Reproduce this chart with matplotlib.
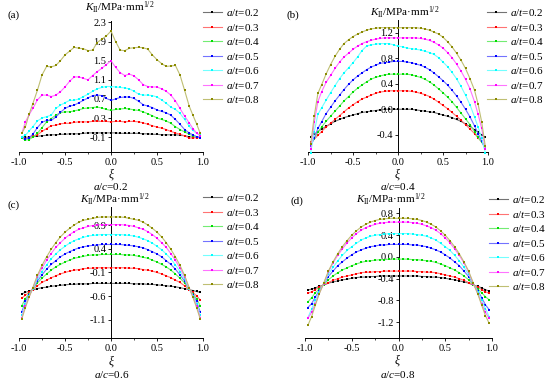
import numpy as np
import matplotlib
matplotlib.use("Agg")
import matplotlib.pyplot as plt
from matplotlib.colors import to_rgb

plt.rcParams['font.family'] = ['Liberation Serif', 'DejaVu Serif']
plt.rcParams['mathtext.fontset'] = 'custom'
plt.rcParams['mathtext.rm'] = 'Liberation Serif'
plt.rcParams['mathtext.it'] = 'Liberation Serif:italic'

# ---------------- data ----------------
xi = [-0.97, -0.93, -0.89, -0.85, -0.80, -0.75, -0.70, -0.65, -0.60, -0.55, -0.50,
      -0.45, -0.40, -0.35, -0.30, -0.25, -0.20, -0.15, -0.10, -0.05, 0.0,
      0.05, 0.10, 0.15, 0.20, 0.25, 0.30, 0.35, 0.40, 0.45, 0.50,
      0.55, 0.60, 0.65, 0.70, 0.75, 0.80, 0.85, 0.89, 0.93, 0.97]

series_labels = ['0.2', '0.3', '0.4', '0.5', '0.6', '0.7', '0.8']

# panel (a) a/c = 0.2
a_02 = [-0.10,-0.10,-0.10,-0.09,-0.08,-0.07,-0.06,-0.05,-0.05,-0.04,-0.04,-0.03,-0.03,-0.03,-0.02,-0.01,-0.01,-0.01,-0.01,-0.01,
        -0.01,
        -0.01,-0.02,-0.02,-0.02,-0.02,-0.02,-0.03,-0.03,-0.04,-0.04,-0.05,-0.05,-0.05,-0.05,-0.06,-0.07,-0.09,-0.10,-0.10,-0.11]
a_03 = [-0.09,-0.13,-0.11,-0.08,-0.05,0.02,0.08,0.14,0.15,0.18,0.19,0.19,0.21,0.22,0.22,0.22,0.23,0.23,0.23,0.23,
        0.22,
        0.23,0.23,0.22,0.23,0.23,0.22,0.20,0.17,0.14,0.11,0.09,0.06,0.02,-0.01,-0.04,-0.07,-0.12,-0.12,-0.11,-0.11]
a_04 = [-0.12,-0.16,-0.15,-0.10,-0.02,0.10,0.22,0.29,0.36,0.41,0.43,0.43,0.45,0.47,0.50,0.51,0.52,0.53,0.51,0.48,
        0.46,
        0.48,0.49,0.50,0.49,0.47,0.46,0.43,0.39,0.35,0.30,0.27,0.24,0.19,0.12,0.06,0.01,-0.04,-0.07,-0.09,-0.09]
a_05 = [-0.09,-0.14,-0.11,-0.04,0.10,0.21,0.25,0.25,0.32,0.42,0.50,0.55,0.57,0.62,0.67,0.72,0.77,0.78,0.77,0.71,
        0.67,
        0.70,0.73,0.74,0.74,0.71,0.65,0.58,0.55,0.52,0.47,0.44,0.41,0.36,0.27,0.17,0.06,-0.01,-0.05,-0.09,-0.11]
a_06 = [-0.09,-0.06,0.03,0.12,0.24,0.30,0.33,0.36,0.50,0.57,0.62,0.67,0.67,0.70,0.75,0.80,0.86,0.91,0.94,0.96,
        0.96,
        0.95,0.94,0.93,0.91,0.86,0.80,0.78,0.78,0.77,0.74,0.68,0.61,0.53,0.48,0.40,0.27,0.13,0.04,-0.02,-0.06]
a_07 = [-0.02,0.22,0.37,0.50,0.68,0.78,0.78,0.75,0.78,0.85,0.95,1.07,1.16,1.16,1.13,1.10,1.19,1.27,1.34,1.42,
        1.50,
        1.36,1.25,1.19,1.22,1.18,1.10,1.00,0.96,0.95,0.95,0.91,0.86,0.78,0.66,0.50,0.34,0.20,0.08,-0.01,-0.07]
a_08 = [-0.02,0.12,0.38,0.60,0.88,1.20,1.38,1.37,1.40,1.50,1.62,1.70,1.78,1.76,1.75,1.71,1.72,1.88,1.95,2.02,
        2.12,
        1.90,1.72,1.71,1.76,1.77,1.78,1.77,1.74,1.62,1.52,1.44,1.38,1.39,1.40,1.20,0.88,0.55,0.36,0.18,-0.02]

# panel (b) a/c = 0.4
b_02 = [-0.43,-0.39,-0.35,-0.31,-0.27,-0.23,-0.19,-0.16,-0.13,-0.11,-0.09,-0.07,-0.05,-0.04,-0.03,-0.02,-0.01,0.0,0.0,0.0,
        0.0,
        0.0,0.0,0.0,-0.01,-0.02,-0.03,-0.04,-0.05,-0.07,-0.09,-0.11,-0.13,-0.16,-0.19,-0.23,-0.27,-0.32,-0.36,-0.40,-0.44]
b_03 = [-0.52,-0.47,-0.41,-0.35,-0.28,-0.22,-0.16,-0.10,-0.04,0.02,0.07,0.12,0.16,0.19,0.22,0.25,0.27,0.28,0.29,0.29,
        0.29,
        0.29,0.29,0.28,0.27,0.25,0.23,0.20,0.16,0.11,0.06,0.01,-0.05,-0.11,-0.17,-0.24,-0.31,-0.38,-0.45,-0.51,-0.58]
b_04 = [-0.55,-0.46,-0.36,-0.28,-0.19,-0.11,-0.03,0.05,0.13,0.20,0.27,0.33,0.38,0.43,0.47,0.50,0.52,0.54,0.55,0.55,
        0.55,
        0.55,0.55,0.54,0.52,0.50,0.47,0.43,0.38,0.32,0.26,0.19,0.12,0.03,-0.06,-0.15,-0.24,-0.35,-0.44,-0.52,-0.60]
b_05 = [-0.58,-0.45,-0.30,-0.20,-0.07,0.03,0.13,0.22,0.31,0.39,0.46,0.52,0.57,0.62,0.66,0.69,0.72,0.73,0.74,0.75,
        0.75,
        0.75,0.74,0.73,0.71,0.69,0.66,0.62,0.57,0.51,0.45,0.38,0.30,0.21,0.11,0.0,-0.12,-0.26,-0.38,-0.50,-0.63]
b_06 = [-0.68,-0.35,-0.08,0.02,0.14,0.26,0.37,0.48,0.57,0.65,0.73,0.82,0.92,0.99,1.01,1.02,1.03,1.03,1.03,1.01,
        0.99,
        0.98,0.96,0.95,0.94,0.93,0.91,0.89,0.86,0.81,0.74,0.67,0.58,0.48,0.36,0.22,0.07,-0.12,-0.28,-0.45,-0.68]
b_07 = [-0.63,-0.20,0.12,0.27,0.42,0.53,0.64,0.74,0.82,0.88,0.94,0.99,1.03,1.06,1.08,1.10,1.11,1.12,1.12,1.12,
        1.12,
        1.12,1.12,1.12,1.12,1.11,1.10,1.08,1.05,1.01,0.96,0.89,0.81,0.71,0.60,0.47,0.32,0.12,-0.08,-0.30,-0.62]
b_08 = [-0.55,-0.10,0.25,0.38,0.55,0.70,0.83,0.94,1.03,1.09,1.14,1.18,1.21,1.24,1.26,1.27,1.28,1.28,1.28,1.28,
        1.28,
        1.28,1.28,1.28,1.28,1.27,1.26,1.24,1.21,1.18,1.13,1.06,0.98,0.88,0.77,0.64,0.48,0.30,0.08,-0.20,-0.58]

# panel (c) a/c = 0.6
c_02 = [-0.55,-0.52,-0.49,-0.47,-0.44,-0.42,-0.41,-0.39,-0.38,-0.37,-0.36,-0.35,-0.35,-0.34,-0.34,-0.34,-0.33,-0.33,-0.33,-0.33,
        -0.33,
        -0.33,-0.33,-0.33,-0.33,-0.34,-0.34,-0.34,-0.35,-0.35,-0.36,-0.37,-0.38,-0.39,-0.40,-0.42,-0.44,-0.46,-0.48,-0.50,-0.52]
c_03 = [-0.64,-0.58,-0.52,-0.46,-0.38,-0.31,-0.26,-0.21,-0.17,-0.13,-0.10,-0.07,-0.05,-0.04,-0.02,-0.01,-0.01,0.0,0.0,0.0,
        0.0,
        0.0,0.0,0.0,-0.01,-0.01,-0.02,-0.04,-0.05,-0.07,-0.10,-0.13,-0.17,-0.21,-0.26,-0.31,-0.38,-0.46,-0.52,-0.59,-0.68]
c_04 = [-0.80,-0.65,-0.55,-0.45,-0.32,-0.22,-0.13,-0.05,0.02,0.07,0.12,0.16,0.20,0.22,0.24,0.26,0.27,0.27,0.28,0.28,
        0.28,
        0.28,0.28,0.27,0.27,0.26,0.24,0.22,0.20,0.16,0.12,0.07,0.02,-0.05,-0.13,-0.22,-0.32,-0.45,-0.55,-0.65,-0.80]
c_05 = [-0.93,-0.71,-0.57,-0.44,-0.28,-0.15,-0.03,0.07,0.15,0.23,0.29,0.34,0.38,0.42,0.44,0.46,0.47,0.48,0.49,0.49,
        0.49,
        0.49,0.49,0.48,0.47,0.46,0.44,0.42,0.38,0.34,0.29,0.23,0.15,0.07,-0.03,-0.15,-0.28,-0.44,-0.57,-0.71,-0.93]
c_06 = [-1.00,-0.76,-0.59,-0.44,-0.24,-0.08,0.06,0.19,0.29,0.38,0.45,0.52,0.57,0.61,0.64,0.67,0.68,0.69,0.70,0.70,
        0.70,
        0.70,0.70,0.69,0.68,0.67,0.64,0.61,0.57,0.52,0.45,0.38,0.29,0.19,0.06,-0.08,-0.24,-0.44,-0.59,-0.76,-1.00]
c_07 = [-1.05,-0.80,-0.61,-0.43,-0.19,-0.01,0.16,0.30,0.43,0.53,0.62,0.70,0.76,0.81,0.84,0.87,0.89,0.90,0.91,0.91,
        0.91,
        0.91,0.91,0.90,0.89,0.87,0.84,0.81,0.76,0.70,0.62,0.53,0.43,0.30,0.16,-0.01,-0.19,-0.43,-0.61,-0.80,-1.05]
c_08 = [-1.08,-0.84,-0.62,-0.42,-0.16,0.05,0.23,0.39,0.53,0.65,0.75,0.83,0.90,0.96,1.00,1.02,1.04,1.06,1.07,1.07,
        1.07,
        1.07,1.07,1.06,1.04,1.02,1.00,0.96,0.90,0.83,0.75,0.65,0.53,0.39,0.23,0.05,-0.16,-0.42,-0.62,-0.84,-1.08]

# panel (d) a/c = 0.8
d_02 = [-0.61,-0.59,-0.57,-0.54,-0.52,-0.48,-0.46,-0.44,-0.42,-0.41,-0.39,-0.38,-0.37,-0.37,-0.36,-0.36,-0.35,-0.35,-0.35,-0.35,
        -0.35,
        -0.35,-0.35,-0.35,-0.35,-0.36,-0.36,-0.37,-0.37,-0.38,-0.39,-0.41,-0.42,-0.44,-0.46,-0.48,-0.52,-0.54,-0.57,-0.60,-0.63]
d_03 = [-0.67,-0.64,-0.60,-0.56,-0.51,-0.47,-0.43,-0.40,-0.37,-0.35,-0.33,-0.31,-0.29,-0.28,-0.28,-0.27,-0.27,-0.26,-0.26,-0.26,
        -0.26,
        -0.26,-0.26,-0.26,-0.27,-0.27,-0.28,-0.28,-0.29,-0.31,-0.33,-0.35,-0.37,-0.40,-0.43,-0.47,-0.51,-0.56,-0.60,-0.64,-0.67]
d_04 = [-0.83,-0.75,-0.66,-0.59,-0.51,-0.42,-0.35,-0.29,-0.24,-0.20,-0.16,-0.13,-0.10,-0.08,-0.07,-0.06,-0.05,-0.05,-0.04,-0.04,
        -0.04,
        -0.04,-0.04,-0.05,-0.05,-0.06,-0.07,-0.08,-0.10,-0.13,-0.16,-0.20,-0.24,-0.29,-0.35,-0.42,-0.51,-0.59,-0.66,-0.73,-0.79]
d_05 = [-0.93,-0.86,-0.74,-0.62,-0.50,-0.36,-0.26,-0.16,-0.09,-0.02,0.04,0.09,0.13,0.16,0.19,0.20,0.22,0.22,0.23,0.23,
        0.23,
        0.23,0.23,0.22,0.22,0.20,0.19,0.16,0.13,0.09,0.04,-0.02,-0.09,-0.16,-0.26,-0.36,-0.50,-0.62,-0.75,-0.88,-0.97]
d_06 = [-1.12,-0.96,-0.80,-0.65,-0.49,-0.32,-0.19,-0.07,0.03,0.12,0.19,0.25,0.31,0.35,0.38,0.40,0.41,0.42,0.43,0.43,
        0.43,
        0.43,0.43,0.42,0.41,0.40,0.38,0.35,0.31,0.25,0.19,0.12,0.03,-0.07,-0.19,-0.32,-0.49,-0.65,-0.80,-0.95,-1.10]
d_07 = [-1.13,-1.02,-0.86,-0.68,-0.49,-0.28,-0.11,0.03,0.15,0.26,0.35,0.43,0.49,0.54,0.57,0.60,0.62,0.63,0.64,0.64,
        0.64,
        0.64,0.64,0.63,0.62,0.60,0.57,0.54,0.49,0.43,0.35,0.26,0.15,0.03,-0.11,-0.28,-0.49,-0.68,-0.86,-1.02,-1.13]
d_08 = [-1.26,-1.10,-0.89,-0.69,-0.48,-0.26,-0.09,0.06,0.19,0.30,0.40,0.48,0.55,0.60,0.64,0.67,0.69,0.70,0.71,0.71,
        0.71,
        0.71,0.71,0.70,0.69,0.67,0.64,0.60,0.55,0.48,0.40,0.30,0.19,0.06,-0.09,-0.26,-0.48,-0.69,-0.89,-1.08,-1.22]

panels_data = [
    [a_02, a_03, a_04, a_05, a_06, a_07, a_08],
    [b_02, b_03, b_04, b_05, b_06, b_07, b_08],
    [c_02, c_03, c_04, c_05, c_06, c_07, c_08],
    [d_02, d_03, d_04, d_05, d_06, d_07, d_08],
]
panel_tags = ['(a)', '(b)', '(c)', '(d)']
ac_labels = ['0.2', '0.4', '0.6', '0.8']
yticks_list = [
    [-0.1, 0.3, 0.7, 1.1, 1.5, 1.9, 2.3],
    [-0.4, 0.0, 0.4, 0.8, 1.2],
    [-1.1, -0.6, -0.1, 0.4, 0.9],
    [-1.2, -0.8, -0.4, 0.0, 0.4, 0.8],
]
xticks = [-1.0, -0.5, 0.0, 0.5, 1.0]

# ---------------- style / layout ----------------
colors = ['#000000', '#ff0000', '#00dd00', '#0000ff', '#00ffff', '#ff00ff', '#8a8a00']
W, H = 550, 380
ylims = [(-0.41, 2.33), (-0.67, 1.40), (-1.48, 1.28), (-1.49, 0.90)]
# axes boxes in pixel coords: (x_left, x_right, y_top, y_bottom)
boxes = [(19, 203, 21, 152), (308, 488, 20, 152), (19, 203, 207, 338), (305, 492, 208, 338)]
ylabel_pos = [(120, 8), (405, 13), (115, 200), (391, 200)]
tag_pos = [(14, 15), (293, 15), (14, 205), (297, 201)]
xlab_pos = [(112, 174), (398, 174), (112, 361), (398, 360)]
ac_pos = [(111, 186), (398, 186), (112, 374), (398, 374)]
leg_pos = [(203, 7), (487, 7), (203, 192), (489, 194)]


def light(c, f=0.45):
    r, g, b = to_rgb(c)
    return (r + (1 - r) * f, g + (1 - g) * f, b + (1 - b) * f)


fig = plt.figure(figsize=(W / 100, H / 100), dpi=100)
for k in range(4):
    x0, x1, yt, yb = boxes[k]
    ax = fig.add_axes([x0 / W, 1 - yb / H, (x1 - x0) / W, (yb - yt) / H])
    ax.patch.set_alpha(0)
    handles = []
    for s, (vals, col) in enumerate(zip(panels_data[k], colors)):
        ln, = ax.plot(xi, vals, color=light(col), lw=0.8, marker='s', ms=1.8,
                      mfc=col, mec=col, mew=0, label=r'$a/t$=' + series_labels[s],
                      clip_on=False, zorder=3)
        handles.append(ln)
    ax.set_xlim(-1.0, 1.0)
    ax.set_ylim(*ylims[k])
    ax.spines['top'].set_visible(False)
    ax.spines['right'].set_visible(False)
    ax.spines['left'].set_position(('data', 0))
    ax.spines['left'].set_linewidth(0.7)
    ax.spines['bottom'].set_linewidth(0.7)
    ax.set_xticks(xticks)
    ax.set_xticklabels(['%.1f' % v for v in xticks])
    ax.set_xticks([-0.75, -0.25, 0.25, 0.75], minor=True)
    ax.set_yticks(yticks_list[k])
    ax.set_yticklabels(['%.1f' % v for v in yticks_list[k]])
    ax.tick_params(axis='both', labelsize=7.5, width=0.6, length=2.5, direction='out', pad=1.5)
    ax.tick_params(axis='x', which='minor', length=1.5, width=0.5)
    ax.tick_params(axis='y', pad=1)
    # texts in figure pixel coords
    fig.text(ylabel_pos[k][0] / W, 1 - ylabel_pos[k][1] / H,
             r'$K_{\mathrm{II}}$/MPa·mm$^{1/2}$', ha='center', va='center', fontsize=8)
    fig.text(tag_pos[k][0] / W, 1 - tag_pos[k][1] / H, panel_tags[k],
             ha='center', va='center', fontsize=8)
    fig.text(xlab_pos[k][0] / W, 1 - xlab_pos[k][1] / H, r'$\xi$',
             ha='center', va='center', fontsize=8.5)
    fig.text(ac_pos[k][0] / W, 1 - ac_pos[k][1] / H, r'$a/c$=' + ac_labels[k],
             ha='center', va='center', fontsize=8)
    fig.legend(handles=handles, loc='upper left',
               bbox_to_anchor=(leg_pos[k][0] / W, 1 - leg_pos[k][1] / H),
               frameon=False, fontsize=8, handlelength=1.7, handletextpad=0.35,
               labelspacing=0.32, borderpad=0, borderaxespad=0, markerscale=1.0)

fig.savefig('out.png', dpi=100)
